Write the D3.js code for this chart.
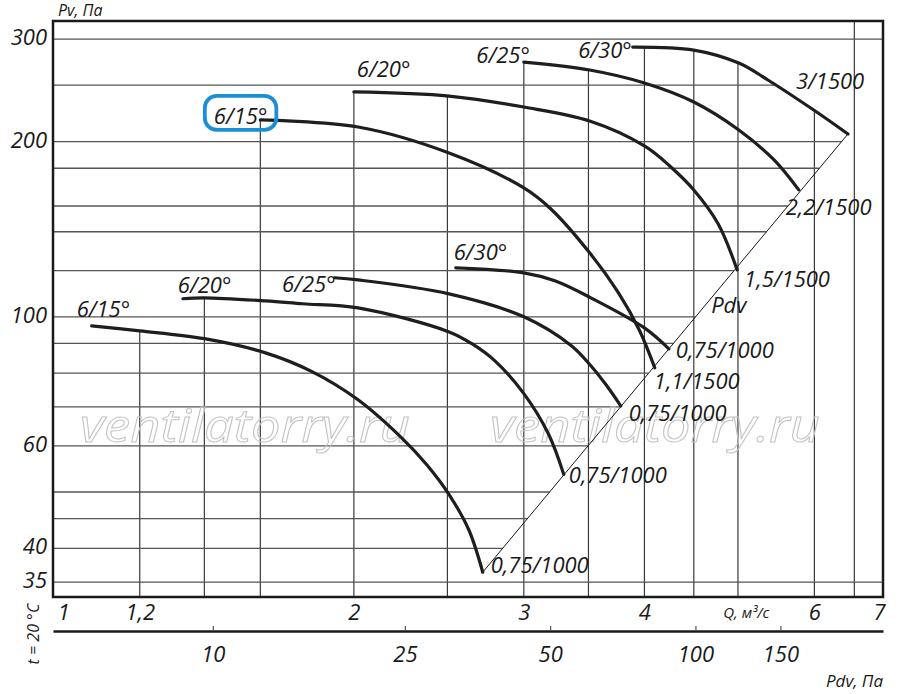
<!DOCTYPE html>
<html>
<head>
<meta charset="utf-8">
<script src="https://cdn.jsdelivr.net/npm/d3@7"></script>
<style>
  body { margin: 0; background: #fff; }
  svg text { font-family: "Open Sans", "Noto Sans", sans-serif; font-style: italic; fill: #1a1a1a; }
</style>
</head>
<body>
<script>
// Q in m3/s, Pv in Pa (lower group 1000 rpm, upper group 1500 rpm)
const q15lo = [1.07, 1.20, 1.40, 1.62, 1.81, 2.02, 2.24, 2.38, 2.51, 2.63, 2.72];
const p15lo = [96.5, 94.6, 91.7, 86.7, 80.5, 72.0, 62.0, 55.7, 49.5, 43.1, 36.4];
const q20lo = [1.33, 1.40, 1.62, 1.77, 2.02, 2.51, 2.65, 2.80, 3.00, 3.18, 3.30];
const p20lo = [107.4, 107.8, 106.5, 105.3, 103.6, 94.2, 89.9, 84.0, 73.8, 63.0, 53.6];
const q25lo = [1.91, 2.02, 2.51, 3.00, 3.36, 3.52, 3.65, 3.78];
const p25lo = [116.7, 115.7, 109.5, 100.0, 89.2, 82.4, 76.4, 70.3];
const q30lo = [2.55, 3.00, 3.23, 3.52, 4.00, 4.24];
const p30lo = [121.4, 119.0, 115.3, 107.8, 95.7, 88.1];
const q15hi = [1.60, 2.02, 2.51, 3.00, 3.20, 3.51, 3.76, 3.95, 4.10];
const p15hi = [217.9, 211.9, 191.2, 166.5, 153.2, 128.8, 109.9, 95.0, 81.7];
const q20hi = [2.00, 2.51, 3.00, 3.51, 4.00, 4.26, 4.50, 4.77, 4.99];
const p20hi = [243.4, 239.5, 229.3, 217.0, 196.6, 180.9, 165.2, 144.4, 120.4];
const q25hi = [3.00, 3.51, 4.00, 4.50, 5.01, 5.45, 5.78];
const p25hi = [274.0, 265.5, 252.2, 233.9, 209.4, 186.0, 165.2];
const q30hi = [3.89, 4.50, 5.01, 5.37, 5.99, 6.50];
const p30hi = [290.7, 287.3, 272.9, 255.2, 226.6, 206.1];

const bladeNames = ["6/15°", "6/20°", "6/25°", "6/30°", "6/15°", "6/20°", "6/25°", "6/30°"];
const motorNames = ["0,75/1000", "0,75/1000", "0,75/1000", "0,75/1000", "1,1/1500", "1,5/1500", "2,2/1500", "3/1500"];

// Pdv line (through the ends of the curves)
const pdvLineQ = [2.72, 6.50];
const pdvLineP = [36.4, 206.1];
const pdvCoef = 4.9; // Pdv = 4.9 * Q^2

// ticks and grid
const qTicks = [1, 1.2, 2, 3, 4, 6, 7];
const pvTicks = [35, 40, 60, 100, 200, 300];
const pdvTicks = [10, 25, 50, 100, 150];
const qGrid = [1.2, 1.4, 1.6, 2, 2.5, 3, 3.5, 4, 4.5, 5, 6, 6.6];
const pvGrid = [35, 40, 45, 50, 60, 70, 80, 90, 100, 120, 140, 155, 180, 200, 250, 300];

const width = 900, height = 694;
const plotLeft = 53, plotRight = 883, plotTop = 21, plotBottom = 597;

const svg = d3.select("body").append("svg")
  .attr("width", width).attr("height", height);

const x = d3.scaleLog().domain([0.9757, 7.067]).range([plotLeft, plotRight]);
const y = d3.scaleLog().domain([33.0, 322.3]).range([plotBottom, plotTop]);
const xPdv = d3.scaleLog()
  .domain([pdvCoef * 0.9757 * 0.9757, pdvCoef * 7.067 * 7.067])
  .range([plotLeft, plotRight]);

const curves = [
  {q: q15lo, p: p15lo}, {q: q20lo, p: p20lo}, {q: q25lo, p: p25lo}, {q: q30lo, p: p30lo},
  {q: q15hi, p: p15hi}, {q: q20hi, p: p20hi}, {q: q25hi, p: p25hi}, {q: q30hi, p: p30hi}
];
curves.forEach((c, i) => {
  c.pts = d3.zip(c.q, c.p);
  c.name = bladeNames[i];
  c.motor = motorNames[i];
});

// label offsets in px: [dx, dy, anchor]
const startLabelPos = [[-15, -9, "start"], [-5, -6, "start"], [1, 14, "end"], [-2, -8, "start"],
                       [7, 4, "end"], [3, -15, "start"], [6, 1, "end"], [-1, 11, "end"]];
const endLabelPos = [[8, 1], [5, 9], [8, 15], [7, 9], [-1, 21], [7, 17], [-13, 25], [-52, -45]];

const line = d3.line()
  .x(d => x(d[0]))
  .y(d => y(d[1]))
  .curve(d3.curveCatmullRom.alpha(0.5));

// layers
const gridG = svg.append("g");
const markG = svg.append("g");
const curveG = svg.append("g");

// watermark
["ventilatorry.ru", "ventilatorry.ru"].forEach((t, i) => {
  markG.append("text")
    .attr("x", 80 + i * 410).attr("y", 442)
    .attr("textLength", 330).attr("lengthAdjust", "spacingAndGlyphs")
    .style("font-size", "46px")
    .style("fill", "none")
    .style("stroke", "#c4c4c4").style("stroke-width", 1)
    .text(t);
});

// Pdv line
const diag = d3.zip(pdvLineQ, pdvLineP).map(d => ({x: x(d[0]), y: y(d[1])}));
curveG.append("path")
  .attr("d", d3.line().x(d => d.x).y(d => d.y)(diag))
  .attr("fill", "none").attr("stroke", "#1a1a1a").attr("stroke-width", 1);

// curves
const curvePaths = curveG.selectAll("path.curve").data(curves).enter().append("path")
  .attr("class", "curve")
  .attr("d", d => line(d.pts))
  .attr("fill", "none")
  .attr("stroke", "#1e1e1e")
  .attr("stroke-width", 3.2)
  .attr("stroke-linecap", "round");

// sample the drawn curves so the grid can stop at them
curvePaths.each(function(c) {
  const len = this.getTotalLength();
  c.samples = d3.range(0, len, 1).map(l => this.getPointAtLength(l));
  c.samples.push(this.getPointAtLength(len));
});

// horizontal grid ends at the rightmost curve or the Pdv line
function rightEnd(py) {
  let best = null;
  curves.map(c => c.samples).concat([diag]).forEach(s => {
    for (let k = 1; k < s.length; k++) {
      const a = s[k - 1], b = s[k];
      if (a.y !== b.y && (a.y - py) * (b.y - py) <= 0) {
        const xx = a.x + (py - a.y) / (b.y - a.y) * (b.x - a.x);
        if (best === null || xx > best) best = xx;
      }
    }
  });
  return best === null ? plotRight : best;
}
// vertical grid ends at the topmost curve
function topEnd(px) {
  let best = null;
  curves.forEach(c => {
    const s = c.samples;
    const xs = s[0].x, xe = s[s.length - 1].x;
    if (px < xs - 2 || px > xe) return;
    const cx = Math.max(px, xs);
    for (let k = 1; k < s.length; k++) {
      const a = s[k - 1], b = s[k];
      if ((a.x - cx) * (b.x - cx) <= 0) {
        const yy = a.x === b.x ? Math.min(a.y, b.y) : a.y + (cx - a.x) / (b.x - a.x) * (b.y - a.y);
        if (best === null || yy < best) best = yy;
      }
    }
  });
  return best === null ? plotTop : best;
}

gridG.selectAll("line.v").data(qGrid).enter().append("line")
  .attr("class", "v")
  .attr("x1", d => x(d)).attr("x2", d => x(d))
  .attr("y1", d => topEnd(x(d))).attr("y2", plotBottom)
  .attr("stroke", "#3a3a3a").attr("stroke-width", 1.2);

gridG.selectAll("line.h").data(pvGrid).enter().append("line")
  .attr("class", "h")
  .attr("x1", plotLeft).attr("x2", d => rightEnd(y(d)))
  .attr("y1", d => y(d)).attr("y2", d => y(d))
  .attr("stroke", "#555").attr("stroke-width", 1.3);

// curve labels
const labels = svg.append("g").style("font-size", "22px");
curves.forEach((c, i) => {
  const n = c.q.length;
  const s = startLabelPos[i], e = endLabelPos[i];
  c.startText = labels.append("text")
    .attr("x", x(c.q[0]) + s[0]).attr("y", y(c.p[0]) + s[1])
    .attr("text-anchor", s[2])
    .text(c.name);
  labels.append("text")
    .attr("x", x(c.q[n - 1]) + e[0]).attr("y", y(c.p[n - 1]) + e[1])
    .text(c.motor);
});
labels.append("text")
  .attr("x", x(4.69)).attr("y", y(101.6))
  .text("Pdv");

// highlight box round the upper 6/15°
const bb = curves[4].startText.node().getBBox();
svg.append("rect")
  .attr("x", bb.x - 9).attr("y", bb.y - 4)
  .attr("width", bb.width + 18).attr("height", bb.height + 4)
  .attr("rx", 12).attr("ry", 12)
  .attr("fill", "none").attr("stroke", "#1b8fd6").attr("stroke-width", 3.8);

// frame
svg.append("rect")
  .attr("x", plotLeft).attr("y", plotTop)
  .attr("width", plotRight - plotLeft).attr("height", plotBottom - plotTop)
  .attr("fill", "none").attr("stroke", "#1a1a1a").attr("stroke-width", 2.5);

// axes
const comma = d => String(d).replace(".", ",");
const yAxis = svg.append("g")
  .attr("transform", `translate(${plotLeft},0)`)
  .call(d3.axisLeft(y).tickValues(pvTicks).tickFormat(comma).tickSize(0).tickPadding(6));
const xAxis = svg.append("g")
  .attr("transform", `translate(0,${plotBottom})`)
  .call(d3.axisBottom(x).tickValues(qTicks).tickFormat(comma).tickSize(0).tickPadding(7));
[yAxis, xAxis].forEach(g => {
  g.select(".domain").remove();
  g.selectAll("text").style("font-size", "22px").attr("fill", "#1a1a1a");
});
yAxis.selectAll("text").attr("dy", "0.25em");

const pdvAxis = svg.append("g")
  .attr("transform", "translate(0,631)")
  .call(d3.axisBottom(xPdv).tickValues(pdvTicks).tickSizeInner(-5).tickSizeOuter(0).tickPadding(15));
pdvAxis.select(".domain").attr("stroke", "#1a1a1a").attr("stroke-width", 2.5);
pdvAxis.selectAll(".tick line").attr("stroke", "#555").attr("stroke-width", 1.2);
pdvAxis.selectAll("text").style("font-size", "22px").attr("fill", "#1a1a1a");

// axis titles
svg.append("text").attr("x", 58).attr("y", 16).style("font-size", "16px").text("Pv, Па");
svg.append("text").attr("x", x(5.1)).attr("y", 618).attr("text-anchor", "middle")
  .style("font-size", "15px").text("Q, м³/с");
svg.append("text").attr("x", 883).attr("y", 687).attr("text-anchor", "end")
  .style("font-size", "17px").text("Pdv, Па");
svg.append("text")
  .attr("transform", "translate(39,634) rotate(-90)")
  .attr("text-anchor", "middle")
  .style("font-size", "16px").text("t = 20 °C");
</script>
</body>
</html>
